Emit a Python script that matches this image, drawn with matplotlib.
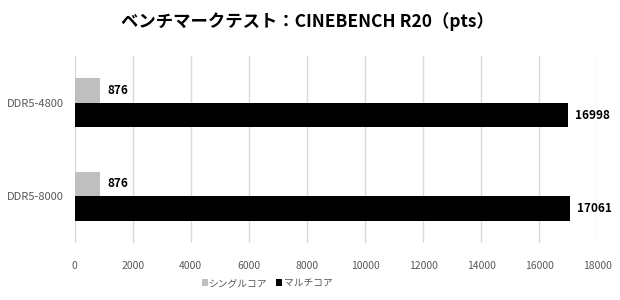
import matplotlib
matplotlib.use("Agg")
import matplotlib.pyplot as plt
import numpy as np

plt.rcParams['font.family'] = ['Noto Sans CJK JP', 'DejaVu Sans']

title = "ベンチマークテスト：CINEBENCH R20（pts）"
categories = ["DDR5-4800", "DDR5-8000"]
series_names = ["シングルコア", "マルチコア"]
single = [876, 876]
multi = [16998, 17061]
colors = ["#bfbfbf", "#000000"]
xticks = [0, 2000, 4000, 6000, 8000, 10000, 12000, 14000, 16000, 18000]

fig = plt.figure(figsize=(6.2, 3.0), dpi=100)
ax = fig.add_axes([74.7/620, 1-243/300, (597.3-74.7)/620, (243-56)/300])

y = np.arange(len(categories))
h = 0.263
b1 = ax.barh(y - h/2, single, height=h, color=colors[0], label=series_names[0], zorder=3)
b2 = ax.barh(y + h/2, multi, height=h, color=colors[1], label=series_names[1], zorder=3)

for bars in (b1, b2):
    for r in bars:
        ax.text(r.get_width() + 250, r.get_y() + r.get_height()/2, f"{int(r.get_width())}",
                va='center', ha='left', fontsize=8.5, fontweight='bold', color='black')

ax.set_xlim(0, 18000)
ax.set_ylim(len(categories) - 0.5, -0.5)
ax.set_xticks(xticks)
ax.set_xticklabels([str(t) for t in xticks], fontsize=7.5, color='#595959')
ax.set_yticks(y)
ax.set_yticklabels(categories, fontsize=8, color='#595959')
ax.tick_params(axis='y', length=0, pad=8)
ax.tick_params(axis='x', length=0, pad=13)
ax.grid(axis='x', color='#d9d9d9', linewidth=1, zorder=0)
for s in ax.spines.values():
    s.set_visible(False)

fig.text(307/620, 1-22/300, title, ha='center', va='center', fontsize=12.5, fontweight='bold')

leg = fig.legend(handles=[b1, b2], labels=series_names, loc='center', bbox_to_anchor=(267/620, 1-283/300),
                 ncol=2, frameon=False, fontsize=7, handlelength=0.6, handleheight=0.6,
                 handletextpad=0.15, columnspacing=0.9)
for t in leg.get_texts():
    t.set_color('#595959')

fig.savefig("out.png", dpi=100)
